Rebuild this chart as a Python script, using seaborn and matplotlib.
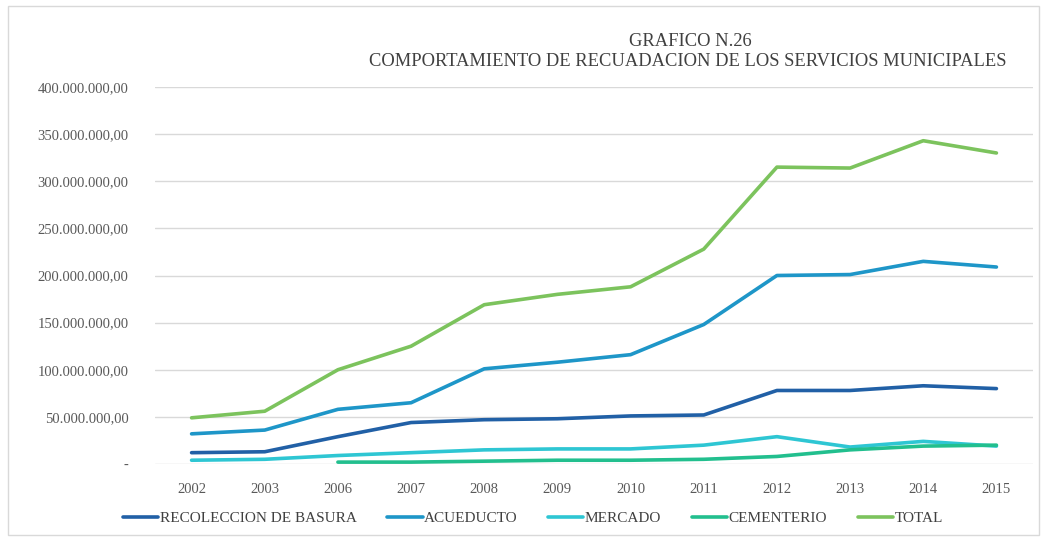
import matplotlib.pyplot as plt
import numpy as np
import pandas as pd
import seaborn as sns
from matplotlib.patches import Rectangle
from matplotlib.ticker import FuncFormatter

years = ["2002", "2003", "2006", "2007", "2008", "2009", "2010",
         "2011", "2012", "2013", "2014", "2015"]

recoleccion = [12, 13, 29, 44, 47, 48, 51, 52, 78, 78, 83, 80]
acueducto = [32, 36, 58, 65, 101, 108, 116, 148, 200, 201, 215, 209]
mercado = [4, 5, 9, 12, 15, 16, 16, 20, 29, 18, 24, 19]
cementerio = [np.nan, np.nan, 2, 2, 3, 4, 4, 5, 8, 15, 19, 20]
total = [49, 56, 100, 125, 169, 180, 188, 228, 315, 314, 343, 330]

series_names = ["RECOLECCION DE BASURA", "ACUEDUCTO", "MERCADO", "CEMENTERIO", "TOTAL"]
colors = ["#2160a6", "#1e96c8", "#2ec6d3", "#22bf8e", "#7cc35d"]

rows = []
for name, vals in zip(series_names, [recoleccion, acueducto, mercado, cementerio, total]):
    for i, v in enumerate(vals):
        rows.append({"pos": i, "valor": v * 1e6, "serie": name})
df = pd.DataFrame(rows)

sns.set_style("white")
plt.rcParams["font.family"] = ["Liberation Serif", "DejaVu Serif"]

fig = plt.figure(figsize=(10.47, 5.41), dpi=100)
ax = fig.add_axes([155 / 1047, 1 - 464 / 541, (1033 - 155) / 1047, (464 - 87) / 541])

sns.lineplot(data=df, x="pos", y="valor", hue="serie", hue_order=series_names,
             palette=colors, linewidth=2.6, ax=ax, legend=True)

ax.set_xlim(-0.5, len(years) - 0.5)
ax.set_ylim(0, 400e6)
ax.set_xticks(range(len(years)))
ax.set_xticklabels(years)
ax.set_yticks(np.arange(0, 400e6 + 1, 50e6))


def fmt(v, _):
    if v == 0:
        return "-"
    s = f"{int(round(v)):,}".replace(",", ".")
    return s + ",00"


ax.yaxis.set_major_formatter(FuncFormatter(fmt))
ax.grid(axis="y", color="#d9d9d9", linewidth=1)
ax.set_axisbelow(True)
for sp in ax.spines.values():
    sp.set_visible(False)
ax.tick_params(axis="both", length=0, labelsize=10.5, colors="#595959")
ax.tick_params(axis="y", pad=19)
ax.tick_params(axis="x", pad=14)
ax.set_xlabel("")
ax.set_ylabel("")

handles, labels = ax.get_legend_handles_labels()
ax.legend(handles, labels, loc="center", bbox_to_anchor=(533 / 1047, 1 - 518 / 541),
          bbox_transform=fig.transFigure, ncol=5, frameon=False,
          handlelength=2.3, handletextpad=0.1, columnspacing=2.0,
          prop={"size": 11}, labelcolor="#404040")

fig.text(690 / 1047, 1 - 42 / 541, "GRAFICO N.26", ha="center", va="center",
         fontsize=13.3, color="#404040")
fig.text(688 / 1047, 1 - 62 / 541,
         "COMPORTAMIENTO DE RECUADACION DE LOS SERVICIOS MUNICIPALES",
         ha="center", va="center", fontsize=13.3, color="#404040")

fig.patches.append(Rectangle((8 / 1047, 6 / 541), 1 - 16 / 1047, 1 - 12 / 541,
                             transform=fig.transFigure, fill=False,
                             edgecolor="#d9d9d9", linewidth=1))

fig.savefig("out.png", dpi=100)
